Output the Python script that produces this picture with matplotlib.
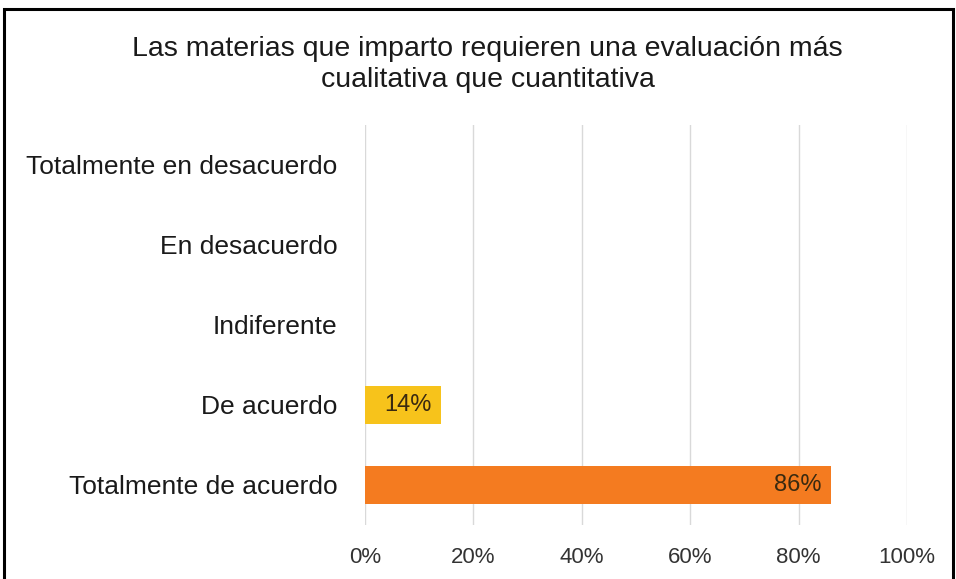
import matplotlib.pyplot as plt
from matplotlib.patches import Rectangle

# datos
categorias = ['Totalmente de acuerdo', 'De acuerdo', 'Indiferente',
              'En desacuerdo', 'Totalmente en desacuerdo']
valores = [86, 14, 0, 0, 0]
colores = ['#F47B20', '#F7C31B', '#A5A5A5', '#5B9BD5', '#4472C4']
ticks_x = [0, 20, 40, 60, 80, 100]
titulo = 'Las materias que imparto requieren una evaluación más\ncualitativa que cuantitativa'

plt.rcParams['font.family'] = ['Liberation Sans', 'DejaVu Sans']

fig = plt.figure(figsize=(9.56, 5.79), dpi=100)
ax = fig.add_axes([0.3818, 0.0933, 0.567, 0.691])

ax.barh(range(len(categorias)), valores, height=0.48, color=colores, zorder=3)
for i, v in enumerate(valores):
    if v > 0:
        ax.text(v - 1.8, i, f'{v}%', ha='right', va='center', fontsize=17,
                color='#3a2a10', zorder=4)

ax.set_xlim(0, 100)
ax.set_ylim(-0.5, len(categorias) - 0.5)
ax.set_yticks(range(len(categorias)))
ax.set_yticklabels(categorias, fontsize=19, color='#1a1a1a')
ax.set_xticks(ticks_x)
ax.set_xticklabels([f'{t}%' for t in ticks_x], fontsize=16, color='#333333')
ax.tick_params(length=0)
ax.tick_params(axis='y', pad=20)
ax.tick_params(axis='x', pad=16)
ax.grid(axis='x', color='#d9d9d9', linewidth=1, zorder=0)
for s in ax.spines.values():
    s.set_visible(False)

fig.text(0.51, 0.889, titulo, ha='center', va='center', fontsize=20.5,
         color='#1a1a1a', linespacing=1.25)

fig.patches.append(Rectangle((0.004, -0.01), 0.993, 0.995, transform=fig.transFigure,
                             fill=False, edgecolor='black', linewidth=2.2))

plt.savefig('out.png', dpi=100)
